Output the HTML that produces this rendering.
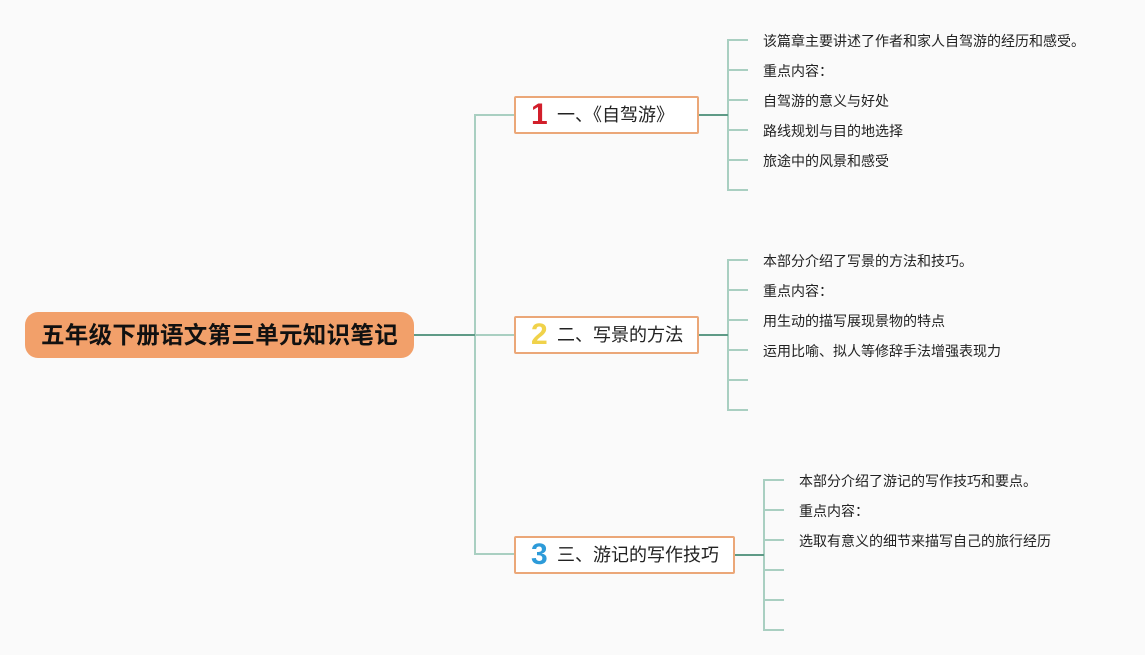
<!DOCTYPE html>
<html><head><meta charset="utf-8"><style>
html,body{margin:0;padding:0;background:#fafafa;}
body{width:1145px;height:655px;position:relative;overflow:hidden;font-family:"Liberation Sans","Noto Sans CJK SC",sans-serif;}
.root{position:absolute;left:25px;top:312px;width:389px;height:46px;background:#f2a06a;border-radius:13px;box-sizing:border-box;font-weight:bold;font-size:23.5px;line-height:46px;text-align:center;color:#111;letter-spacing:0.3px;}
.box{position:absolute;height:38px;box-sizing:border-box;border:2px solid #eba778;background:#fff;border-radius:2px;font-size:18px;line-height:34px;color:#222;padding-left:15px;white-space:nowrap;font-family:"Liberation Sans","Noto Sans CJK JP",sans-serif;}
.num{display:inline-block;font-weight:bold;font-size:30px;width:22px;margin-right:4px;vertical-align:top;font-family:"Liberation Sans",sans-serif;}
.t{position:absolute;font-size:14px;color:#222;white-space:nowrap;line-height:16px;}
</style></head><body>
<svg width="1145" height="655" style="position:absolute;left:0;top:0">
<g fill="none" stroke="#a9cfc1" stroke-width="2">
<path d="M515 115 H475 V554 H515"/>
<path d="M475 335 H515"/>
<path d="M748 40 H728 V190 H748 M728 70 H748 M728 100 H748 M728 130 H748 M728 160 H748"/>
<path d="M748 260 H728 V410 H748 M728 290 H748 M728 320 H748 M728 350 H748 M728 380 H748"/>
<path d="M784 480 H764 V630 H784 M764 510 H784 M764 540 H784 M764 570 H784 M764 600 H784"/>
</g>
<g fill="none" stroke="#5e9a86" stroke-width="2">
<path d="M414 335 H475"/>
<path d="M698 115 H728"/>
<path d="M698 335 H728"/>
<path d="M734 555 H764"/>
</g>
</svg>
<div class="root">五年级下册语文第三单元知识笔记</div>
<div class="box" style="left:514px;top:96px;width:185px;"><span class="num" style="color:#d21f2b">1</span>一、《自驾游》</div>
<div class="box" style="left:514px;top:316px;width:185px;"><span class="num" style="color:#f0d24a">2</span>二、写景的方法</div>
<div class="box" style="left:514px;top:536px;width:221px;"><span class="num" style="color:#2d9bd9">3</span>三、游记的写作技巧</div>
<div class="t" style="left:763px;top:33px">该篇章主要讲述了作者和家人自驾游的经历和感受。</div>
<div class="t" style="left:763px;top:63px">重点内容：</div>
<div class="t" style="left:763px;top:93px">自驾游的意义与好处</div>
<div class="t" style="left:763px;top:123px">路线规划与目的地选择</div>
<div class="t" style="left:763px;top:153px">旅途中的风景和感受</div>
<div class="t" style="left:763px;top:253px">本部分介绍了写景的方法和技巧。</div>
<div class="t" style="left:763px;top:283px">重点内容：</div>
<div class="t" style="left:763px;top:313px">用生动的描写展现景物的特点</div>
<div class="t" style="left:763px;top:343px">运用比喻、拟人等修辞手法增强表现力</div>
<div class="t" style="left:799px;top:473px">本部分介绍了游记的写作技巧和要点。</div>
<div class="t" style="left:799px;top:503px">重点内容：</div>
<div class="t" style="left:799px;top:533px">选取有意义的细节来描写自己的旅行经历</div>
</body></html>
